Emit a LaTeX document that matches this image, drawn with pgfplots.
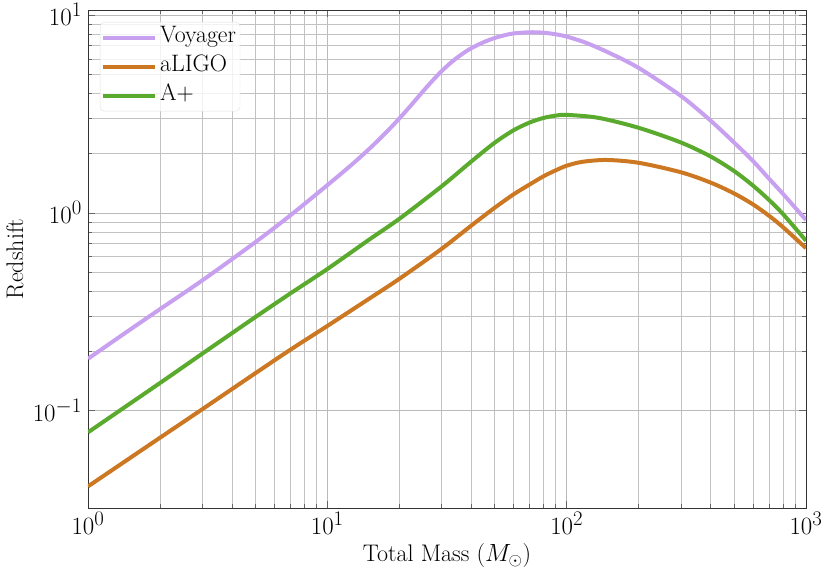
\documentclass[border=0pt]{standalone}
\usepackage{pgfplots}
\pgfplotsset{compat=1.18}
\definecolor{voy}{RGB}{200,160,240}
\definecolor{alig}{RGB}{204,119,34}
\definecolor{aplus}{RGB}{90,170,45}
\begin{document}
\begin{tikzpicture}
\begin{axis}[
  name=ax,
  scale only axis, width=718pt, height=498pt,
  xmode=log, ymode=log,
  xmin=1, xmax=1000, ymin=0.0322, ymax=10.6,
  grid=both,
  major grid style={black!27, line width=0.6pt},
  minor grid style={black!24, line width=0.6pt},
  axis line style={black!80, line width=0.9pt},
  tick align=inside, tick pos=both,
  major tick length=7pt, minor tick length=4pt,
  tick style={black!60, line width=0.6pt},
  xtick={1,10,100,1000}, ytick={0.1,1,10},
  tick label style={font=\fontsize{24.88}{30}\selectfont, inner sep=0pt},
  xticklabel style={anchor=base, yshift=-26.7pt},
  yticklabel style={anchor=base east, xshift=-6pt, yshift=-10.5pt},
  xlabel={Total Mass ($M_\odot$)}, ylabel={Redshift},
  label style={font=\fontsize{24}{29}\selectfont, inner sep=0pt},
  xlabel style={at={(axis description cs:0.5,-0.1072)}, anchor=base},
  ylabel style={at={(axis description cs:-0.1017,0.5)}, anchor=center},
  legend cell align=left,
  legend image code/.code={\draw[#1] (0pt,0pt) -- (52pt,0pt);},
  legend style={at={(axis description cs:0,1)}, anchor=north west,
    xshift=12pt, yshift=-12pt, draw=black!12, rounded corners=4pt,
    fill=white, fill opacity=0.8, text opacity=1,
    font=\fontsize{23.8}{28}\selectfont, inner sep=1pt, row sep=0pt,
    nodes={inner sep=3pt, text height=16.5pt, text depth=6.5pt}},
]
\addplot[voy, line width=4pt, smooth] coordinates {
(1,0.183) (1.5,0.257) (2,0.326) (3,0.455) (5,0.71) (7,0.97) (10,1.38)
(12.7,1.76) (15,2.11) (17.5,2.53) (20,3.00) (22.5,3.525) (25,4.09)
(27.5,4.656) (30,5.195) (32.5,5.684) (35,6.111) (37.5,6.48) (40,6.80)
(45,7.29) (50,7.65) (55,7.90) (60,8.07) (70,8.18) (80,8.14) (90,7.99)
(100,7.78) (120,7.25) (150,6.45) (200,5.40) (300,3.90) (400,2.92)
(500,2.27) (600,1.83) (700,1.49) (800,1.25) (1000,0.92)};
\addlegendentry{Voyager}
\addplot[alig, line width=4pt, smooth] coordinates {
(1,0.0414) (2,0.073) (3,0.1016) (5,0.1545) (7,0.203) (10,0.268) (15,0.369)
(20,0.464) (30,0.657) (40,0.863) (50,1.06) (60,1.24) (70,1.39) (80,1.53)
(90,1.64) (100,1.73) (116,1.81) (147,1.85) (200,1.79) (300,1.604)
(400,1.421) (500,1.254) (600,1.104) (700,0.967) (800,0.848) (1000,0.663)};
\addlegendentry{aLIGO}
\addplot[aplus, line width=4pt, smooth] coordinates {
(1,0.0777) (2,0.138) (3,0.194) (5,0.297) (7,0.391) (10,0.52) (15,0.734)
(20,0.933) (30,1.36) (40,1.82) (50,2.26) (60,2.615) (70,2.86) (80,3.017)
(90,3.10) (100,3.127) (136,3.02) (200,2.69) (300,2.268) (400,1.925)
(500,1.628) (600,1.374) (700,1.163) (800,0.988) (1000,0.723)};
\addlegendentry{A+}
\end{axis}
\pgfresetboundingbox
\path[use as bounding box] ([xshift=-88pt,yshift=-66pt]ax.south west) rectangle ([xshift=24pt,yshift=10pt]ax.north east);
\end{tikzpicture}
\end{document}
